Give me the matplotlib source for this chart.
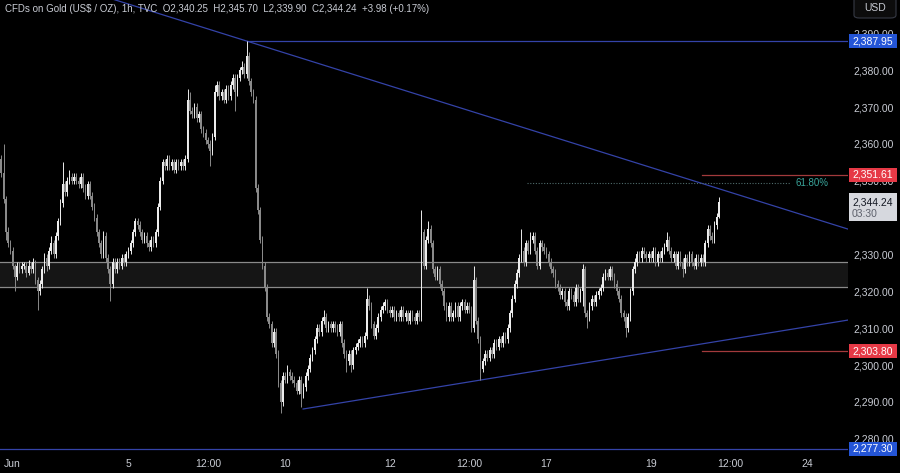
import numpy as np
import matplotlib.pyplot as plt
from matplotlib import transforms
from matplotlib.patches import Rectangle, FancyBboxPatch

# Gold CFD, 1h bars. bar 0 = Jun 3 00:00, 23 bars per trading day
first_open = 2356.0
closes = [
    # May 31 (tail)
    2352, 2345, 2336, 2333, 2331, 2327, 2324, 2327, 2326, 2327,
    # Jun 3
    2327, 2325, 2327, 2326, 2328, 2323, 2320, 2322, 2326, 2329, 2327, 2331,
    2333, 2330, 2335, 2339, 2344, 2349, 2347, 2350, 2351, 2350, 2351,
    # Jun 4
    2350, 2349, 2351, 2348, 2346, 2349, 2346, 2343, 2340, 2336, 2333, 2330,
    2335, 2329, 2326, 2322, 2328, 2326, 2328, 2327, 2329, 2328, 2330,
    # Jun 5
    2331, 2333, 2336, 2339, 2338, 2336, 2334, 2335, 2333, 2332, 2334, 2333,
    2336, 2343, 2350, 2355, 2354, 2356, 2354, 2355, 2353, 2355, 2354,
    # Jun 6
    2355, 2354, 2356, 2372, 2369, 2368, 2370, 2367, 2368, 2364, 2363, 2361,
    2360, 2358, 2362, 2374, 2376, 2373, 2374, 2372, 2375, 2373, 2376,
    # Jun 7
    2378, 2374, 2378, 2380, 2381, 2379, 2384, 2377, 2374, 2372, 2348, 2342,
    2334, 2327, 2321, 2313, 2311, 2306, 2309, 2303, 2295, 2290, 2297,
    # Jun 10
    2296, 2298, 2297, 2296, 2295, 2293, 2296, 2292, 2294, 2297, 2299, 2302,
    2304, 2307, 2310, 2309, 2312, 2313, 2310, 2311, 2310, 2311, 2310,
    # Jun 11
    2309, 2311, 2306, 2303, 2301, 2303, 2300, 2304, 2305, 2306, 2307, 2306,
    2308, 2318, 2316, 2311, 2308, 2310, 2313, 2315, 2316, 2317, 2315,
    # Jun 12
    2314, 2315, 2313, 2314, 2313, 2315, 2313, 2314, 2312, 2314, 2313, 2312,
    2314, 2313, 2336, 2327, 2334, 2337, 2333, 2326, 2324, 2326, 2322,
    # Jun 13
    2320, 2316, 2313, 2316, 2313, 2314, 2316, 2313, 2316, 2317, 2315, 2316,
    2315, 2310, 2323, 2312, 2307, 2299, 2301, 2303, 2302, 2304, 2303,
    # Jun 14
    2306, 2305, 2307, 2306, 2308, 2307, 2310, 2314, 2318, 2322, 2325, 2329,
    2331, 2328, 2333, 2331, 2334, 2335, 2331, 2327, 2333, 2332, 2331,
    # Jun 17
    2330, 2328, 2326, 2325, 2322, 2321, 2319, 2320, 2317, 2316, 2320, 2319,
    2317, 2321, 2318, 2320, 2326, 2314, 2313, 2316, 2318, 2317, 2319,
    # Jun 18
    2320, 2321, 2324, 2325, 2324, 2326, 2324, 2322, 2320, 2318, 2314, 2313,
    2310, 2313, 2320, 2326, 2328, 2330, 2329, 2331, 2330, 2329, 2330,
    # Jun 19
    2329, 2331, 2328, 2330, 2329, 2331, 2332, 2334, 2331, 2329, 2330, 2327,
    2330, 2328, 2326, 2329, 2328, 2330, 2328, 2327, 2329, 2328, 2329,
    # Jun 20
    2328, 2333, 2337, 2335, 2334, 2338, 2340.25, 2344.24,
]
# wick length above / below the body
wick_up = [
    1, 8, 1, 1.5, 1, 1, 0.5, 1, 1, 1,
    1, 1, 1.5, 1, 1, 0.5, 1, 1, 1, 1.5, 1, 1, 2, 1, 1, 1, 1, 6, 1, 1, 2, 1, 1,
    1, 1, 1, 1, 1, 1, 1, 1, 1, 1, 1, 1, 1.5, 1, 1, 1, 1, 1, 1, 1, 1, 1, 1,
    1, 1, 1, 1, 1, 1, 1, 1, 1, 1, 1, 1, 1, 1, 1, 1, 1, 1, 1, 1, 1, 1, 1,
    1, 1, 1, 3, 2, 1, 1, 1, 1, 1, 1, 1, 1, 1, 1, 2, 1, 1, 1, 1, 1, 1, 1,
    1, 1, 1, 1, 1.5, 1, 3.95, 1, 1, 1, 1, 1, 1, 1, 1, 1, 1, 1, 1, 1, 1, 1, 1,
    1, 2, 1, 1, 1, 1, 1, 1, 1, 1, 1, 1, 1, 1, 1, 1, 1, 2, 1, 1, 1, 1, 1,
    1, 1, 1, 1, 1, 1, 1, 1, 1, 1, 1, 1, 1, 3, 1, 1, 1, 1, 1, 1, 1, 1, 1,
    1, 1, 1, 1, 1, 1, 1, 1, 1, 1, 1, 1, 1, 1, 6, 1, 1, 2, 1, 1, 1, 1, 1,
    1, 1, 1, 1, 1, 1, 1, 1, 1, 1, 1, 1, 1, 1, 4, 1, 1, 1, 1, 1, 1, 1, 1,
    1, 1, 1, 1, 1, 1, 1, 1, 1, 1, 1, 1, 6, 1, 1, 1, 2, 1, 1, 1, 1, 1, 1,
    1, 1, 1, 1, 1, 1, 1, 1, 1, 1, 1, 1, 1, 1, 1, 1, 1.5, 1, 1, 1, 1, 1, 1,
    1, 1, 1, 1, 1, 1, 1, 1, 1, 1, 1, 1, 1, 1, 1, 1, 1, 1, 1, 1, 1, 1, 1,
    1, 1, 1, 1, 1, 1, 1, 2, 1, 1, 1, 1, 1, 1, 1, 1, 1, 1, 1, 1, 1, 1, 1,
    1, 1, 1, 1, 1, 1, 1, 1.46,
]
wick_dn = [
    1, 1, 2, 1, 1, 1, 4, 1, 1, 1,
    1, 1, 0.5, 1, 1, 1, 5, 1, 1, 1, 1.5, 1, 1, 1, 1, 1, 1, 1, 1, 1, 1, 1, 1,
    1, 1, 1, 1, 1, 1, 1, 1, 1, 1, 1, 1, 1, 1, 1, 4.5, 1, 1, 1, 1, 1, 1, 1,
    1, 1, 1, 1, 1, 1, 1, 1, 1, 1, 1, 1, 1, 1, 1, 1, 1, 1, 1, 1, 1, 1, 1,
    1, 1, 1, 1, 1, 1, 1, 1, 1, 1, 1, 1, 1, 4, 1, 1, 1, 1, 1, 1, 1, 1, 1,
    1, 5, 1, 1, 1, 1, 1, 1, 1, 1, 1, 1, 1, 1, 1, 1, 1, 1, 1, 1, 1, 3.1, 1,
    1, 1, 1, 1, 1, 1, 1, 3.4, 1, 1, 1, 1, 1, 1, 1, 1, 1, 1, 1, 1, 1, 1, 1,
    1, 1, 1, 1, 3, 1, 2, 1, 1, 1, 1, 1, 1, 1, 1, 1, 1, 1, 1, 1, 1, 1, 1,
    1, 1, 1, 1, 1, 1, 1, 1, 1, 1, 1, 1, 1, 1, 1, 1, 1, 1, 1, 1, 1, 1, 1,
    1, 1, 1, 1, 1, 1, 1, 1, 1, 1, 1, 1, 1, 1, 1, 1, 1, 3, 1, 1, 1, 1, 1,
    1, 1, 1, 1, 1, 1, 1, 1, 1, 1, 1, 1, 1, 1, 1, 1, 1, 1, 1, 1, 1, 1, 1,
    1, 1, 1, 1, 1, 1, 1, 1, 1, 1, 1, 1, 1, 1, 1, 1, 4, 1, 3, 1, 1, 1, 1,
    1, 1, 1, 1, 1, 1, 1, 1, 1, 1, 1, 1, 2.5, 1, 1, 1, 1, 1, 1, 1, 1, 1, 1,
    1, 1, 1, 1, 1, 1, 1, 1, 1, 1, 1, 1, 1, 1, 2, 1, 1, 1, 1, 1, 1, 1, 1,
    1, 1, 1, 1, 1, 1, 1, 0.35,
]
first_bar = -10

# 2,340 sits fully under the last-price tag, so it is not shown
price_ticks = [2280, 2290, 2300, 2310, 2320, 2330, 2350, 2360, 2370, 2380, 2390]
time_ticks = [-5, 46, 81, 115, 161, 196, 230, 276, 311, 345]
time_labels = ["Jun", "5", "12:00", "10", "12", "12:00", "17", "19", "12:00", "24"]

# drawn levels
peak_level = 2387.95
floor_level = 2277.30
res_level = 2351.61
sup_level = 2303.80
fib_level = 2349.41
zone_lo, zone_hi = 2321.2, 2328.0
last_price = 2344.24
down_line_x, down_line_y = [98, 362.8], [2387.95, 2336.9]
up_line_x, up_line_y = [122.9, 362.8], [2288.06, 2312.2]

BG = "#000000"
TXT = "#c9ccd4"
plt.rcParams['font.family'] = ['Liberation Sans', 'DejaVu Sans']

fig = plt.figure(figsize=(9, 4.73), dpi=100, facecolor=BG)
ax = fig.add_axes([0, 22 / 473, 848 / 900, 451 / 473])
ax.set_facecolor(BG)
x_lo, x_hi = -10.57, 362.83
ax.set_xlim(x_lo, x_hi)
ax.set_ylim(2276.66, 2399.08)

# candles
c = np.array(closes, dtype=float)
o = np.concatenate([[first_open], c[:-1]])
x = np.arange(first_bar, first_bar + len(c))
top = np.maximum(o, c)
bot = np.minimum(o, c)
hi = top + np.array(wick_up)
lo = bot - np.array(wick_dn)
up = c >= o
cols = np.where(up, "#ececec", "#8a8a8a")
ax.vlines(x, lo, hi, colors=cols, linewidth=0.7, zorder=3)
ax.bar(x, np.maximum(top - bot, 0.3), bottom=bot, width=0.72, color=cols,
       linewidth=0, zorder=3)

# zone
ax.axhspan(zone_lo, zone_hi, facecolor="#151515", edgecolor="none", zorder=1)
for lvl in (zone_lo, zone_hi):
    ax.axhline(lvl, color="#8a8a8a", lw=0.9, zorder=1.5)

# trendlines and levels
line_col = "#3443a8"
k = (down_line_y[1] - down_line_y[0]) / (down_line_x[1] - down_line_x[0])
ax.plot([x_lo, x_hi], [down_line_y[0] + k * (x_lo - down_line_x[0]),
                       down_line_y[0] + k * (x_hi - down_line_x[0])],
        color=line_col, lw=0.9, zorder=2)
ax.plot(up_line_x, up_line_y, color=line_col, lw=0.9, zorder=2)
ax.plot([98, x_hi], [peak_level, peak_level], color=line_col, lw=0.9, zorder=2)
ax.axhline(floor_level, color=line_col, lw=0.9, zorder=2)
for lvl in (res_level, sup_level):
    ax.plot([298.5, x_hi], [lvl, lvl], color="#a23a3c", lw=0.9, zorder=2)
ax.plot([221.5, 337.3], [fib_level, fib_level], color="#4f6b6b", lw=0.8,
        ls=(0, (1, 1.5)), zorder=2)
ax.text(339.5, fib_level, "61.80%", color="#3aa59b", fontsize=7,
        va="center", ha="left", zorder=4)

# axes styling
for s in ax.spines.values():
    s.set_visible(False)
ax.yaxis.tick_right()
ax.set_yticks(price_ticks)
ax.set_yticklabels([f"{p:,.2f}" for p in price_ticks])
ax.set_xticks(time_ticks)
ax.set_xticklabels(time_labels)
ax.tick_params(axis="y", length=0, pad=4, labelsize=7.5, labelcolor=TXT)
ax.tick_params(axis="x", length=0, pad=6, labelsize=7.5, labelcolor=TXT)

# price tags on the scale
tr = transforms.blended_transform_factory(fig.transFigure, ax.transData)
px = 1 / 3.684


def tag(price, text, fc, tc, h=14):
    ax.add_patch(Rectangle((849 / 900, price - h / 2 * px), 48 / 900, h * px,
                           transform=tr, facecolor=fc, edgecolor="none",
                           clip_on=False, zorder=6))
    ax.text(852 / 900, price, text, transform=tr, color=tc, fontsize=7.5,
            va="center", ha="left", clip_on=False, zorder=7)


tag(peak_level, f"{peak_level:,.2f}", "#2455d6", "white")
tag(res_level, f"{res_level:,.2f}", "#e63946", "white")
tag(sup_level, f"{sup_level:,.2f}", "#e63946", "white")
tag(floor_level, f"{floor_level:,.2f}", "#2455d6", "white")

ax.add_patch(Rectangle((849 / 900, last_price - 19 * px), 48 / 900, 28 * px,
                       transform=tr, facecolor="#d6d8de", edgecolor="none",
                       clip_on=False, zorder=6))
ax.text(852 / 900, last_price, f"{last_price:,.2f}", transform=tr,
        color="#131722", fontsize=7.5, va="center", ha="left", clip_on=False,
        zorder=7)
ax.text(852 / 900, last_price - 12 * px, "03:30", transform=tr,
        color="#5d606b", fontsize=7.5, va="center", ha="left", clip_on=False,
        zorder=7)

# currency button
fig.patches.append(FancyBboxPatch((854 / 900, 1 - 18 / 473), 42 / 900, 22 / 473,
                                  boxstyle="round,pad=0,rounding_size=0.006",
                                  transform=fig.transFigure, facecolor="#0c0c0c",
                                  edgecolor="#363a45", lw=0.8))
fig.text(875 / 900, 1 - 8 / 473, "USD", color=TXT, fontsize=7.5,
         ha="center", va="center")

fig.text(5 / 900, 1 - 9 / 473,
         r"CFDs on Gold (US\$ / OZ), 1h, TVC  O2,340.25  H2,345.70  L2,339.90  "
         r"C2,344.24  +3.98 (+0.17%)",
         color=TXT, fontsize=7, ha="left", va="center")

fig.savefig("out.png", dpi=100, facecolor=BG)
